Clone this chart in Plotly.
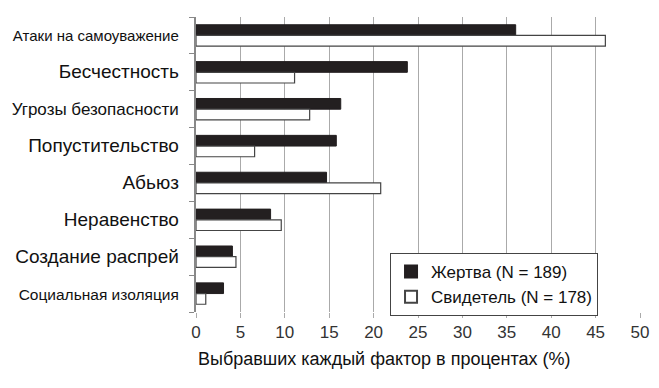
import plotly.graph_objects as go

categories = ["Атаки на самоуважение", "Бесчестность", "Угрозы безопасности",
              "Попустительство", "Абьюз", "Неравенство", "Создание распрей",
              "Социальная изоляция"]
label_sizes = [15, 19, 17, 19, 19, 19, 19, 15.5]
victim = [36.0, 23.8, 16.3, 15.8, 14.7, 8.4, 4.1, 3.1]
witness = [46.1, 11.1, 12.8, 6.6, 20.8, 9.6, 4.5, 1.1]
victim_name = "Жертва (N = 189)"
witness_name = "Свидетель (N = 178)"
x_ticks = [0, 5, 10, 15, 20, 25, 30, 35, 40, 45, 50]
x_title = "Выбравших каждый фактор в процентах (%)"

ticktext = [f'<span style="font-size:{s}px">{c}</span>' for c, s in zip(categories, label_sizes)]

fig = go.Figure()
fig.add_trace(go.Bar(y=categories, x=victim, orientation="h", name=victim_name,
                     marker=dict(color="#231f20", line=dict(color="#231f20", width=1))))
fig.add_trace(go.Bar(y=categories, x=witness, orientation="h", name=witness_name,
                     marker=dict(color="white", line=dict(color="#444", width=1.2))))

fig.update_layout(
    width=651, height=380,
    margin=dict(l=188, r=19, t=9, b=76),
    paper_bgcolor="white", plot_bgcolor="white",
    barmode="group", bargap=0.42, bargroupgap=0,
    font=dict(family="Liberation Sans, Arial, sans-serif", color="#111", size=17),
    showlegend=True,
    legend=dict(x=0.437, y=0.2, xanchor="left", yanchor="top",
                bordercolor="#444", borderwidth=1, bgcolor="white",
                font=dict(size=17, color="#111"), traceorder="normal",
                itemsizing="constant"),
    annotations=[dict(text=x_title, xref="paper", yref="paper", x=0, y=0,
                      xanchor="left", yanchor="top", yshift=-35, showarrow=False,
                      font=dict(size=18, color="#111"))],
)
fig.update_yaxes(type="category", categoryorder="array", categoryarray=categories,
                 autorange="reversed", tickmode="array", tickvals=categories,
                 ticktext=ticktext, tickson="boundaries", ticks="outside",
                 ticklen=5, tickcolor="#888", showline=True, linecolor="#888",
                 linewidth=1.5, showgrid=False, tickfont=dict(size=17, color="#111"),
                 automargin=False, ticklabelstandoff=12)
fig.update_xaxes(range=[0, 50], tickvals=x_ticks, showgrid=True, gridcolor="#aaa",
                 gridwidth=1.2, zeroline=False, showline=False, ticks="outside",
                 ticklen=5, tickcolor="#aaa", tickfont=dict(size=17, color="#333"),
                 automargin=False)

fig.write_html("out.html")
